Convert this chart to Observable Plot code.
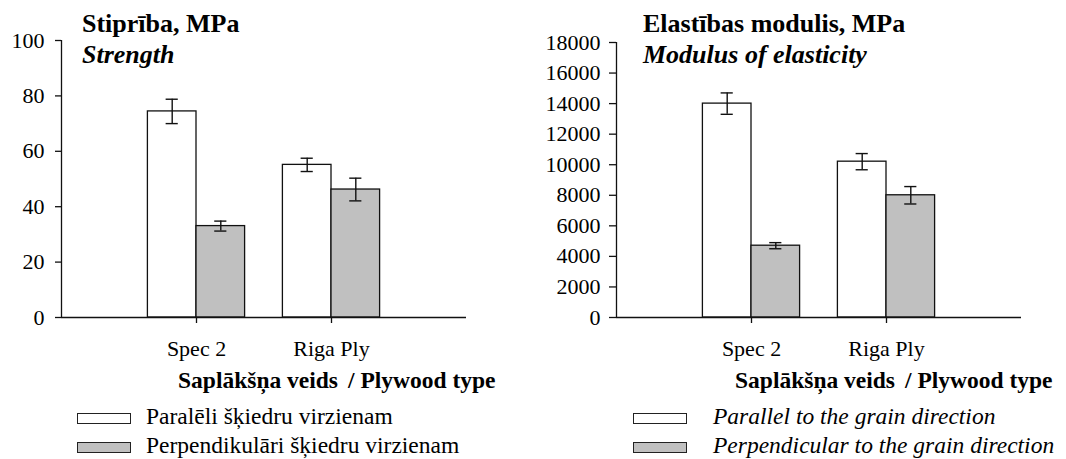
<!DOCTYPE html>
<html>
<head>
<meta charset="utf-8">
<script src="https://cdn.jsdelivr.net/npm/d3@7"></script>
<script src="https://cdn.jsdelivr.net/npm/@observablehq/plot@0.6"></script>
<style>
  html, body { margin: 0; padding: 0; background: white; }
  #wrap { position: relative; width: 1066px; height: 459px; font-family: "Liberation Serif", "Times New Roman", serif; color: black; overflow: hidden; }
  .abs { position: absolute; white-space: nowrap; line-height: 1; }
  .title { font-weight: bold; font-size: 26px; }
  .xtitle { font-weight: bold; font-size: 23.5px; }
  .leg { font-size: 23.5px; }
  .box { position: absolute; width: 52px; height: 9px; border: 1px solid #222; }
  svg { overflow: visible; }
</style>
</head>
<body>
<div id="wrap"></div>
<script>
// ---- data ----
const categories = ["Spec 2", "Riga Ply"];
const strengthParallel = [74.4, 55.1];
const strengthParallelErr = [4.4, 2.4];
const strengthPerpendicular = [33.0, 46.2];
const strengthPerpendicularErr = [1.8, 4.1];
const modulusParallel = [14000, 10200];
const modulusParallelErr = [700, 530];
const modulusPerpendicular = [4700, 8000];
const modulusPerpendicularErr = [200, 570];
const strengthTicks = [0, 20, 40, 60, 80, 100];
const modulusTicks = [0, 2000, 4000, 6000, 8000, 10000, 12000, 14000, 16000, 18000];

const BW = 0.36;    // bar width in category units
const CAP = 0.045;  // error cap half width in category units
const FONT = "Liberation Serif";

function chart({par, parErr, perp, perpErr, ticks, yMax, marginTop, marginLeft, marginRight, tickSize, tickPadding}) {
  const rows = categories.flatMap((c, i) => [
    {pos: i + 1, side: -1, v: par[i], e: parErr[i]},
    {pos: i + 1, side: 1, v: perp[i], e: perpErr[i]}
  ]);
  const cx = d => d.pos + d.side * BW / 2;
  return Plot.plot({
    width: 533,
    height: 372,
    marginTop,
    marginLeft,
    marginRight,
    marginBottom: 55,
    style: {fontFamily: FONT, fontSize: "22px", background: "none", color: "black", overflow: "visible"},
    x: {domain: [0, 3]},
    y: {domain: [0, yMax]},
    marks: [
      Plot.rectY(rows.filter(d => d.side < 0), {x1: d => d.pos - BW, x2: d => d.pos, y1: 0, y2: "v", fill: "white", stroke: "#111", strokeWidth: 1.3}),
      Plot.rectY(rows.filter(d => d.side > 0), {x1: d => d.pos, x2: d => d.pos + BW, y1: 0, y2: "v", fill: "#c0c0c0", stroke: "#111", strokeWidth: 1.3}),
      Plot.ruleX(rows, {x: cx, y1: d => d.v - d.e, y2: d => d.v + d.e, stroke: "#111", strokeWidth: 1.4}),
      Plot.ruleY(rows, {x1: d => cx(d) - CAP, x2: d => cx(d) + CAP, y: d => d.v + d.e, stroke: "#111", strokeWidth: 1.4}),
      Plot.ruleY(rows, {x1: d => cx(d) - CAP, x2: d => cx(d) + CAP, y: d => d.v - d.e, stroke: "#111", strokeWidth: 1.4}),
      Plot.ruleX([0], {y1: 0, y2: yMax, stroke: "#111", strokeWidth: 1.3}),
      Plot.ruleY([0], {stroke: "#111", strokeWidth: 1.6}),
      Plot.axisY(ticks, {tickSize, tickPadding, tickFormat: d => String(d), label: null, fontSize: 22, stroke: "#111", strokeWidth: 1.3}),
      Plot.axisX([1, 2], {tickSize: 6, tickPadding: 17, tickFormat: d => categories[d - 1], label: null, fontSize: 22, stroke: "#111", strokeWidth: 1.3})
    ]
  });
}

const wrap = document.getElementById("wrap");

const left = chart({par: strengthParallel, parErr: strengthParallelErr, perp: strengthPerpendicular, perpErr: strengthPerpendicularErr,
  ticks: strengthTicks, yMax: 100, marginTop: 40, marginLeft: 61, marginRight: 67, tickSize: 6, tickPadding: 11});
left.style.position = "absolute"; left.style.left = "0px"; left.style.top = "0px";
wrap.appendChild(left);

const right = chart({par: modulusParallel, parErr: modulusParallelErr, perp: modulusPerpendicular, perpErr: modulusPerpendicularErr,
  ticks: modulusTicks, yMax: 18000, marginTop: 42, marginLeft: 83, marginRight: 45, tickSize: 7, tickPadding: 9});
right.style.position = "absolute"; right.style.left = "533px"; right.style.top = "0px";
wrap.appendChild(right);

function add(cls, text, x, y, extra) {
  const el = document.createElement("div");
  el.className = "abs " + cls;
  el.innerHTML = text;
  el.style.left = x + "px";
  el.style.top = y + "px";
  if (extra) Object.assign(el.style, extra);
  wrap.appendChild(el);
  return el;
}
function box(x, y, fill) {
  const el = document.createElement("div");
  el.className = "box";
  el.style.left = x + "px";
  el.style.top = y + "px";
  el.style.background = fill;
  wrap.appendChild(el);
}

// titles
add("title", "Stiprība, MPa", 82, 11);
add("title", "<i>Strength</i>", 82, 41.5);
add("title", "Elastības modulis, MPa", 643, 11);
add("title", "<i>Modulus of elasticity</i>", 643, 41.5);

// x axis titles
add("xtitle", "Saplākšņa veids<span style='margin-left:10px'>/ Plywood type</span>", 178, 368.5);
add("xtitle", "Saplākšņa veids<span style='margin-left:10px'>/ Plywood type</span>", 735, 368.5);

// legends
box(77, 413, "white");
box(77, 442, "#c0c0c0");
add("leg", "Paralēli šķiedru virzienam", 146, 405.3);
add("leg", "Perpendikulāri šķiedru virzienam", 146, 433.6);
box(633, 413, "white");
box(633, 442, "#c0c0c0");
add("leg", "<i>Parallel to the grain direction</i>", 713, 405.3);
add("leg", "<i>Perpendicular to the grain direction</i>", 713, 433.6);
</script>
</body>
</html>
